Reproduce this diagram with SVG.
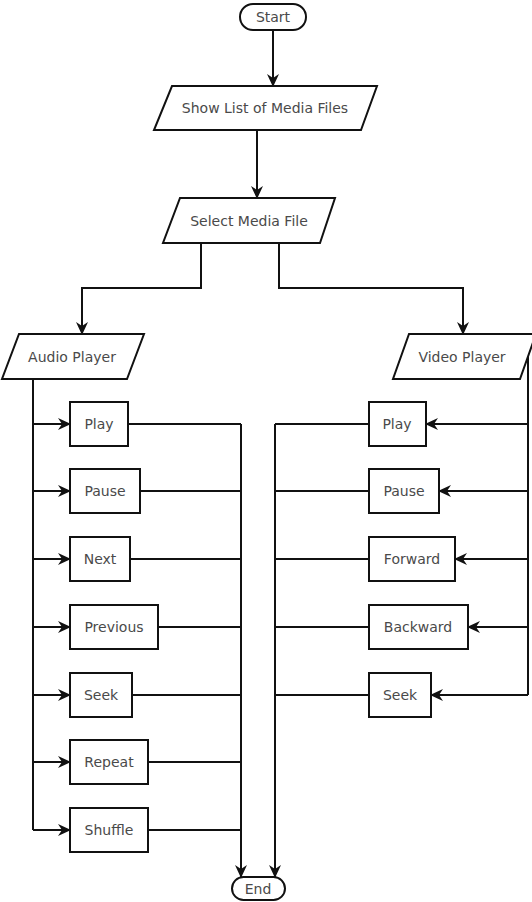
<svg xmlns="http://www.w3.org/2000/svg" width="532" height="902" viewBox="0 0 532 902">
<style>
.s{fill:#fff;stroke:#111;stroke-width:2}
.t{font-family:"DejaVu Sans",sans-serif;font-size:14px;fill:#4a4a4a;text-anchor:middle;dominant-baseline:central}
.c{fill:none;stroke:#111;stroke-width:2}
.a{marker-end:url(#ah)}
</style>
<defs>
<marker id="ah" markerUnits="userSpaceOnUse" markerWidth="13" markerHeight="13" refX="12" refY="6.5" orient="auto">
<path d="M0,0.5 L13,6.5 L0,12.5 L4,6.5 z" fill="#111"/>
</marker>
</defs>
<rect width="532" height="902" fill="#fff"/>
<g id="connectors">
<path class="c a" d="M273,30 V86"/>
<path class="c a" d="M257,130 V198"/>
<path class="c a" d="M201,243 V288 H82 V334"/>
<path class="c a" d="M279,243 V288 H463 V334"/>
<path class="c" d="M33,379 V830"/>
<path class="c a" d="M33,424 H70"/>
<path class="c a" d="M33,491 H70"/>
<path class="c a" d="M33,559 H70"/>
<path class="c a" d="M33,627 H70"/>
<path class="c a" d="M33,695 H70"/>
<path class="c a" d="M33,762 H70"/>
<path class="c a" d="M33,830 H70"/>
<path class="c" d="M128,424 H241"/>
<path class="c" d="M140,491 H241"/>
<path class="c" d="M130,559 H241"/>
<path class="c" d="M158,627 H241"/>
<path class="c" d="M132,695 H241"/>
<path class="c" d="M148,762 H241"/>
<path class="c" d="M148,830 H241"/>
<path class="c a" d="M241,424 V877"/>
<path class="c" d="M528,357 V695"/>
<path class="c a" d="M528,424 H426"/>
<path class="c a" d="M528,491 H439"/>
<path class="c a" d="M528,559 H455"/>
<path class="c a" d="M528,627 H468"/>
<path class="c a" d="M528,695 H431"/>
<path class="c" d="M369,424 H275"/>
<path class="c" d="M369,491 H275"/>
<path class="c" d="M369,559 H275"/>
<path class="c" d="M369,627 H275"/>
<path class="c" d="M369,695 H275"/>
<path class="c a" d="M275,424 V877"/>
</g>
<g id="start"><rect class="s" x="240" y="4" width="66" height="26" rx="13"/><text class="t" x="273" y="17">Start</text></g>
<g id="show-list"><polygon class="s" points="172,86 377,86 361,130 154,130"/><text class="t" x="265" y="108">Show List of Media Files</text></g>
<g id="select-media"><polygon class="s" points="180,198 335,198 320,243 163,243"/><text class="t" x="249" y="221">Select Media File</text></g>
<g id="audio-player"><polygon class="s" points="19,334 144,334 127,379 2,379"/><text class="t" x="72" y="357">Audio Player</text></g>
<g id="video-player"><polygon class="s" points="409,334 536,334 520,379 393,379"/><text class="t" x="462" y="357">Video Player</text></g>
<g id="a-play"><rect class="s" x="70" y="402" width="58" height="44"/><text class="t" x="99" y="424">Play</text></g>
<g id="a-pause"><rect class="s" x="70" y="469" width="70" height="44"/><text class="t" x="105" y="491">Pause</text></g>
<g id="a-next"><rect class="s" x="70" y="537" width="60" height="44"/><text class="t" x="100" y="559">Next</text></g>
<g id="a-previous"><rect class="s" x="70" y="605" width="88" height="44"/><text class="t" x="114" y="627">Previous</text></g>
<g id="a-seek"><rect class="s" x="70" y="673" width="62" height="44"/><text class="t" x="101" y="695">Seek</text></g>
<g id="a-repeat"><rect class="s" x="70" y="740" width="78" height="44"/><text class="t" x="109" y="762">Repeat</text></g>
<g id="a-shuffle"><rect class="s" x="70" y="808" width="78" height="44"/><text class="t" x="109" y="830">Shuffle</text></g>
<g id="v-play"><rect class="s" x="369" y="402" width="57" height="44"/><text class="t" x="397" y="424">Play</text></g>
<g id="v-pause"><rect class="s" x="369" y="469" width="70" height="44"/><text class="t" x="404" y="491">Pause</text></g>
<g id="v-forward"><rect class="s" x="369" y="537" width="86" height="44"/><text class="t" x="412" y="559">Forward</text></g>
<g id="v-backward"><rect class="s" x="369" y="605" width="99" height="44"/><text class="t" x="418" y="627">Backward</text></g>
<g id="v-seek"><rect class="s" x="369" y="673" width="62" height="44"/><text class="t" x="400" y="695">Seek</text></g>
<g id="end"><rect class="s" x="232" y="877" width="53" height="23" rx="11.5"/><text class="t" x="258" y="889">End</text></g>
</svg>
